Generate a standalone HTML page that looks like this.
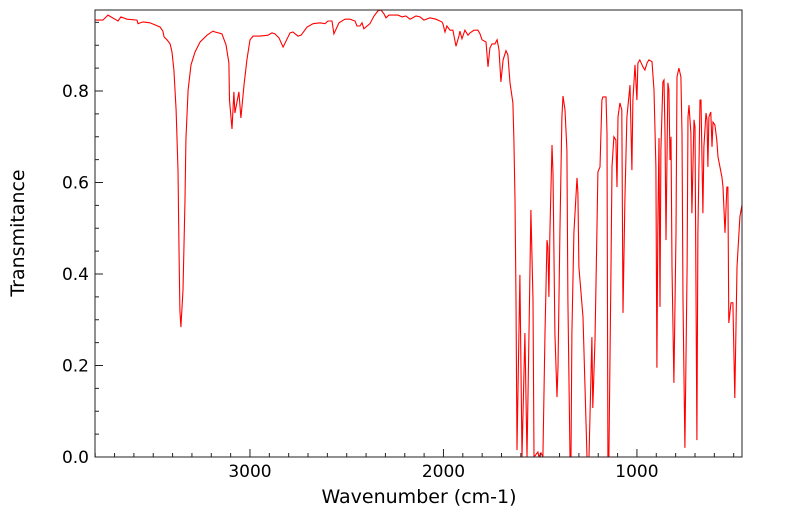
<!DOCTYPE html>
<html><head><meta charset="utf-8"><style>
html,body{margin:0;padding:0;background:#fff;}
svg{display:block;font-family:"DejaVu Sans","Liberation Sans",sans-serif;}
</style></head><body>
<svg id="chart" width="799" height="516">
<text x="419" y="503" font-size="19" text-anchor="middle">Wavenumber (cm-1)</text>
<text transform="translate(24,233) rotate(-90)" font-size="19" text-anchor="middle">Transmitance</text>
<g id="axes"></g>
</svg>
<script>
const wavenumbers=[3801,3760,3734,3698,3682,3667,3636,3584,3579,3553,3517,3465,3450,3444,3429,3413,3403,3393,3382,3372,3367,3362,3357,3346,3336,3331,3320,3305,3284,3258,3222,3191,3181,3145,3124,3109,3106,3093,3083,3078,3057,3047,3031,3016,3000,2984,2948,2907,2886,2871,2850,2829,2793,2778,2752,2736,2705,2674,2638,2612,2597,2576,2566,2540,2509,2483,2457,2447,2432,2421,2411,2380,2359,2339,2323,2307,2297,2282,2235,2214,2194,2173,2142,2121,2101,2070,2039,2008,2003,1992,1982,1966,1951,1935,1920,1915,1904,1889,1873,1863,1842,1822,1811,1801,1780,1770,1760,1749,1734,1723,1713,1703,1692,1677,1667,1656,1641,1636,1630,1625,1620,1605,1594,1579,1568,1558,1548,1537,1532,1512,1506,1496,1486,1475,1465,1460,1455,1450,1439,1434,1424,1413,1408,1398,1388,1382,1372,1362,1357,1346,1341,1336,1326,1310,1305,1300,1279,1258,1248,1233,1228,1217,1207,1202,1191,1181,1176,1160,1155,1150,1145,1134,1129,1119,1109,1103,1098,1088,1078,1072,1062,1052,1036,1026,1021,1010,1000,995,985,969,959,948,938,922,912,902,897,892,886,881,876,866,860,855,850,840,835,829,824,819,809,798,793,783,773,767,762,752,741,736,731,721,716,705,700,690,685,674,669,659,654,643,638,633,628,618,612,607,597,587,581,561,555,545,535,530,525,514,504,494,483,468,457];
const transmittance=[.955,.955,.966,.957,.953,.962,.957,.955,.947,.951,.949,.940,.931,.918,.912,.903,.885,.846,.759,.627,.453,.321,.284,.365,.562,.693,.802,.857,.885,.907,.922,.931,.929,.925,.901,.861,.780,.717,.798,.752,.798,.741,.813,.868,.912,.920,.920,.922,.927,.925,.916,.896,.927,.929,.920,.922,.940,.947,.949,.947,.953,.953,.925,.949,.957,.957,.953,.942,.942,.949,.936,.947,.964,.975,.977,.968,.960,.966,.966,.962,.964,.957,.964,.962,.955,.960,.957,.951,.947,.929,.942,.933,.933,.898,.920,.931,.914,.933,.922,.927,.933,.933,.925,.912,.907,.853,.894,.903,.903,.912,.890,.820,.868,.888,.879,.818,.774,.693,.562,.343,.015,.398,0,.271,0,.271,.540,.343,0,.011,0,.009,0,.271,.474,.459,.350,.490,.682,.621,.271,.131,.197,.490,.743,.789,.759,.671,.343,0,0,.271,.490,.610,.577,.415,.306,0,0,.262,.107,.256,.490,.623,.634,.780,.787,.787,.708,0,0,.415,.634,.700,.693,.590,.743,.774,.759,.315,.562,.743,.813,.627,.780,.857,.780,.861,.868,.853,.846,.861,.868,.864,.802,.634,.195,.496,.697,.328,.671,.820,.824,.708,.474,.818,.802,.649,.700,.415,.162,.490,.831,.850,.831,.708,.343,.020,.415,.743,.769,.708,.533,.737,.721,.037,.490,.780,.780,.533,.678,.752,.737,.634,.743,.754,.678,.732,.726,.693,.656,.612,.590,.490,.590,.590,.293,.337,.337,.129,.415,.525,.551];
const yTickLabels=["0.0","0.2","0.4","0.6","0.8"];
const xTickLabels=["3000","2000","1000"];

const L=95,R=742,T=10,B=457;
const xMax=3801,xMin=457;
function xs(w){return L+(xMax-w)/(xMax-xMin)*(R-L);}
function ys(v){return B-v*457.5;}
const NS="http://www.w3.org/2000/svg";
const svg=document.getElementById('chart');
const g=document.getElementById('axes');
function mk(tag,attrs,parent){const e=document.createElementNS(NS,tag);for(const k in attrs)e.setAttribute(k,attrs[k]);(parent||g).appendChild(e);return e;}

const defs=mk('defs',{},svg);
const cp=mk('clipPath',{id:'clip'},defs);
mk('rect',{x:L,y:T,width:R-L,height:B-T},cp);

let d="";
for(let i=0;i<wavenumbers.length;i++){d+=(i?"L":"M")+xs(wavenumbers[i]).toFixed(1)+","+ys(transmittance[i]).toFixed(1);}
const line=mk('path',{d:d,fill:'none',stroke:'#ff0000','stroke-width':1.1,'clip-path':'url(#clip)'});



const frame=mk('rect',{x:L,y:T,width:R-L,height:B-T,fill:'none',stroke:'#222','stroke-width':1});



for(let k=0;k<=19;k++){const v=k*0.05;const y=ys(v);if(y<T)break;const major=(k%4===0);
 const t=mk('line',{x1:L,x2:L+(major?8:4),y1:y,y2:y,stroke:'#222','stroke-width':1});
 
 }
yTickLabels.forEach((s,i)=>{const t=mk('text',{x:L-6,y:ys(parseFloat(s))+6,'font-size':17,'text-anchor':'end'});t.textContent=s;
 
 });
for(let w=500;w<=3800;w+=100){const x=xs(w);const major=(w%1000===0);
 const t=mk('line',{x1:x,x2:x,y1:B,y2:B-(major?8:4),stroke:'#222','stroke-width':1});
 
 }
xTickLabels.forEach(s=>{const t=mk('text',{x:xs(parseFloat(s)),y:B+20,'font-size':17,'text-anchor':'middle'});t.textContent=s;
 
 });
</script>
</body></html>
